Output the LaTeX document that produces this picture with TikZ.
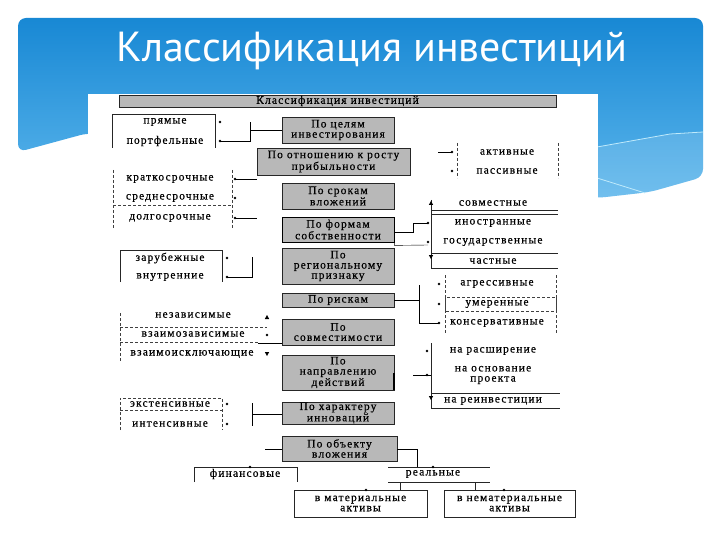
\documentclass[tikz,border=0pt]{standalone}
\usepackage{fontspec}
\newfontfamily\diagfont[LetterSpace=10, FakeBold=0.5]{Liberation Serif}
\newfontfamily\titlefont{PT Sans}

\begin{document}
\begin{tikzpicture}[x=1pt, y=-1pt,
  crit/.style={draw=black!85, fill=black!28, align=center, inner sep=0,
    font=\diagfont\fontsize{11.5}{10.2}\selectfont},
  kind/.style={inner sep=0, align=center, font=\diagfont\fontsize{11.5}{10.2}\selectfont},
  frame/.style={black!85},
  dframe/.style={black!75, densely dashed},
  ]
  \useasboundingbox (0,0) rectangle (720,540);

  % banner
  \shade[top color={rgb,255:red,24;green,136;blue,212}, bottom color={rgb,255:red,92;green,182;blue,236}, rounded corners=8]
    (18,152) -- (18,18) -- (703,18) -- (703,177) -- (650,192) -- (597,198) -- (88,133) -- cycle;
  \fill[white, opacity=0.13] (597,147) -- (670,134) -- (703,132) -- (703,177) -- (650,192) -- (597,198) -- cycle;
  \draw[white!75!cyan, line width=0.8pt] (597,147) -- (670,134) -- (703,132);
  \draw[white!75!cyan, line width=0.8pt] (597,178) -- (645,193);
  \node[text=white, anchor=base, inner sep=0, font=\titlefont\fontsize{42}{42}\selectfont] (title) at (372,62) {Классификация инвестиций};

  % panel
  \fill[white] (88,94) rectangle (598,530);

  \node[crit, minimum width=437, minimum height=12] (head) at (337.5,101) {Классификация инвестиций};

  % criteria
  \node[crit, minimum width=112, minimum height=26] (aim) at (338,130) {По целям\\инвестирования};
  \node[crit, minimum width=153, minimum height=27] (profit) at (333.5,161.5) {По отношению к росту\\прибыльности};
  \node[crit, minimum width=112, minimum height=26] (term) at (338,196) {По срокам\\вложений};
  \node[crit, minimum width=112, minimum height=25, draw=black, thick] (owner) at (338,229.5) {По формам\\собственности};
  \node[crit, minimum width=112, minimum height=36] (region) at (338,266) {По\\региональному\\признаку};
  \node[crit, minimum width=112, minimum height=14] (risk) at (338,300) {По рискам};
  \node[crit, minimum width=112, minimum height=26] (compat) at (338,332) {По\\совместимости};
  \node[crit, minimum width=112, minimum height=35] (action) at (338,372.5) {По\\направлению\\действий};
  \node[crit, minimum width=112, minimum height=22] (innov) at (338,413) {По характеру\\инноваций};
  \node[crit, minimum width=115, minimum height=25] (object) at (339.5,448.5) {По объекту\\вложения};

  % прямые / портфельные
  \node[kind] (direct) at (165,122) {прямые};
  \node[kind] (portf) at (165,141) {портфельные};
  \draw[frame] (112,148) -- (112,114) -- (215,114) -- (215,148);
  \draw (220,141) -- (250,141) -- (250,122);
  \draw (250,130) -- (aim.west |- 0,130);

  % сроки
  \node[kind] (short) at (170,179) {краткосрочные};
  \node[kind] (mid) at (170,198) {среднесрочные};
  \node[kind] (long) at (170,218) {долгосрочные};
  \draw[dframe] (113,170) -- (113,228);
  \draw[dframe] (232,170) -- (232,228);
  \draw[dframe] (113,205) -- (232,205);
  \coordinate (shortend) at (257,179);
  \coordinate (longend) at (257,218);
  \draw (235,179) -- (shortend);
  \draw (235,218) -- (longend);

  % регион
  \node[kind] (foreign) at (170,258) {зарубежные};
  \node[kind] (inner) at (170,277) {внутренние};
  \draw[frame] (120,282) -- (120,250) -- (222,250) -- (222,282);
  \draw (227,277) -- (252,277) -- (252,257);

  % совместимость
  \node[kind] (indep) at (193,315) {независимые};
  \node[kind] (interd) at (193,334) {взаимозависимые};
  \node[kind] (exclus) at (192,354) {взаимоисключающие};
  \draw[dframe] (120,313) -- (120,362);
  \draw[dframe] (120,327) -- (267,327);
  \draw[dframe] (120,342) -- (258,342);
  \draw (258,343) -- (compat.west |- 0,343);
  \fill (267,317) ++(-2.2,2) -- ++(4.4,0) -- ++(-2.2,-4) -- cycle;
  \fill (267,354) ++(-2.2,-2) -- ++(4.4,0) -- ++(-2.2,4) -- cycle;

  % инновации
  \node[kind] (extens) at (170,404) {экстенсивные};
  \node[kind] (intens) at (170,424) {интенсивные};
  \draw[dframe] (120,430) -- (120,398) -- (222,398) -- (222,430);
  \draw[dframe] (120,410) -- (222,410);
  \draw (252,403) -- (252,426);
  \draw (252,414) -- (innov.west |- 0,414);

  % активные / пассивные
  \node[kind] (active) at (507,152) {активные};
  \node[kind] (passive) at (507,171) {пассивные};
  \draw[dframe] (457,143) -- (457,178);
  \draw[dframe] (558,143) -- (558,178);
  \coordinate (activeend) at (438,152);
  \draw (activeend) -- (452,152);

  % формы собственности
  \node[kind] (joint) at (493,203) {совместные};
  \node[kind] (alien) at (493,223) {иностранные};
  \node[kind] (state) at (493,242) {государственные};
  \node[kind] (private) at (493,261) {частные};
  \draw[frame] (431,200) -- (431,268) -- (558,268);
  \foreach \y in {210,214,253} \draw[frame] (431,\y) -- (558,\y);
  \draw (owner.east |- 0,232) -- (413,232) -- (413,223) -- (428,223);
  \draw (owner.south east) -- ++(0,3) -- (428,245);
  \fill (431,203) ++(-2.2,2) -- ++(4.4,0) -- ++(-2.2,-4) -- cycle;
  \fill (431,257) ++(-2.2,-2) -- ++(4.4,0) -- ++(-2.2,4) -- cycle;

  % риски
  \node[kind] (aggr) at (497,284) {агрессивные};
  \node[kind] (moder) at (497,304) {умеренные};
  \node[kind] (cons) at (497,323) {консервативные};
  \draw[dframe] (445,275) -- (445,333);
  \draw[dframe] (556,275) -- (556,333);
  \draw[dframe] (445,297) rectangle (556,311);
  \draw (risk.east) -- (419,300);
  \draw (419,285) -- (419,323) -- (439,323);

  % направление действий
  \node[kind] (expand) at (493,351) {на расширение};
  \node[kind] (found) at (493,375) {на основание\\проекта};
  \node[kind] (reinv) at (493,401) {на реинвестиции};
  \draw[frame] (431,343) -- (431,408) -- (560,408);
  \draw[frame] (431,393) -- (560,393);
  \coordinate (foundend) at (413,375);
  \draw (foundend) -- (431,375);
  \draw[line width=2pt] (action.east |- 0,373) -- (action.south east);
  \fill (431,398) ++(-2.2,-2) -- ++(4.4,0) -- ++(-2.2,4) -- cycle;

  % объект вложения
  \coordinate (objend) at (265,449);
  \draw (objend) -- (object.west |- 0,449);
  \draw (object.east |- 0,449) -- (417,449) -- (417,467);
  \node[kind] (fin) at (245,474) {финансовые};
  \draw[frame] (194,482) -- (194,467) -- (297,467) -- (297,482);
  \node[kind] (real) at (433,474) {реальные};
  \draw[frame] (388,467) -- (490,467);
  \draw[frame] (388,482) -- (490,482);
  \draw[frame] (400,482) -- (400,490);
  \draw[frame] (475,482) -- (475,490);
  \node[draw=black!85, kind, minimum width=133, minimum height=27] (mat) at (360.5,503.5) {в материальные\\активы};
  \node[draw=black!85, kind, minimum width=131, minimum height=27] (nonmat) at (509.5,503.5) {в нематериальные\\активы};

  % markers
  \foreach \x/\y in {220/122, 220/141, 235/179, 235/198, 235/218, 227/258, 227/277,
      267/335, 227/404, 227/424, 452/152, 452/171, 428/223, 428/242,
      439/284, 439/304, 439/323, 427/351, 427/375, 250/467, 433/467, 366/490, 504/490}
    \fill (\x,\y) circle (1.3);
\end{tikzpicture}
\end{document}
